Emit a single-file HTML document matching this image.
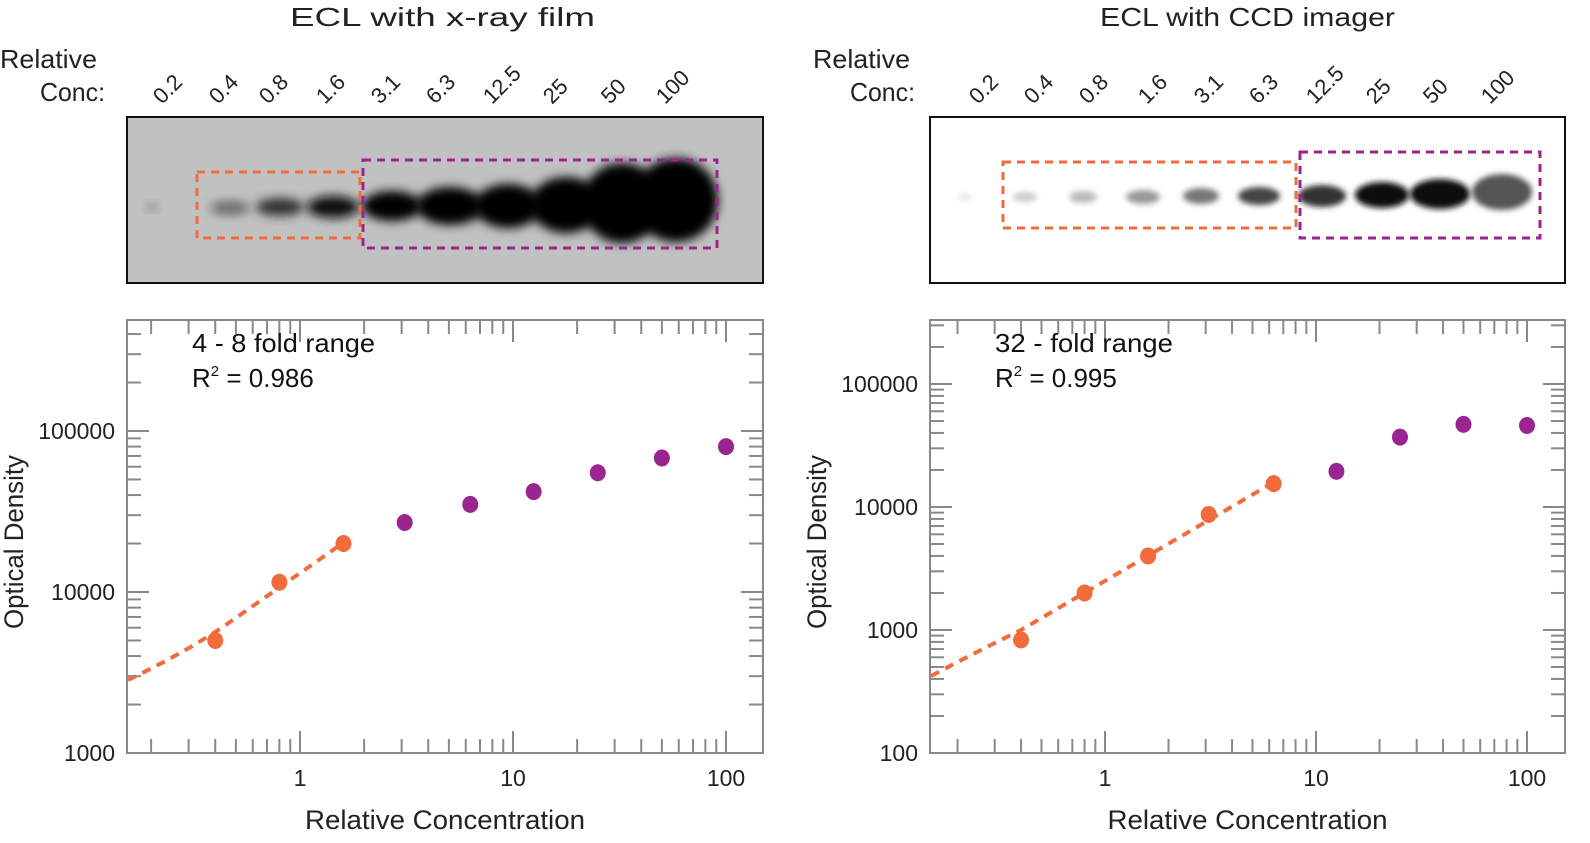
<!DOCTYPE html>
<html><head><meta charset="utf-8"><style>
body{margin:0;background:#fff;}
svg{display:block;font-family:"Liberation Sans",sans-serif;}
</style></head><body>
<svg id="s" width="1590" height="843" xmlns="http://www.w3.org/2000/svg">
<defs>
<filter id="b1" x="-50%" y="-50%" width="200%" height="200%"><feGaussianBlur stdDeviation="5"/></filter>
<filter id="b2" x="-50%" y="-50%" width="200%" height="200%"><feGaussianBlur stdDeviation="3"/></filter>
</defs>
<g fill="#222" font-size="26">
<text x="290" y="26" textLength="305" lengthAdjust="spacingAndGlyphs">ECL with x-ray film</text>
<text x="1100" y="26" textLength="295" lengthAdjust="spacingAndGlyphs">ECL with CCD imager</text>
<text x="0" y="68" textLength="97" lengthAdjust="spacingAndGlyphs">Relative</text><text x="40" y="101" textLength="65" lengthAdjust="spacingAndGlyphs">Conc:</text>
<text x="813" y="68" textLength="97" lengthAdjust="spacingAndGlyphs">Relative</text><text x="850" y="101" textLength="65" lengthAdjust="spacingAndGlyphs">Conc:</text>
</g>
<rect x="127" y="117" width="636" height="166" fill="#c1c1c1" stroke="#111" stroke-width="2"/>
<rect x="930" y="117" width="635" height="166" fill="#fff" stroke="#111" stroke-width="2"/>
<g id="blots"></g>
<rect x="197" y="172" width="163" height="66" fill="none" stroke="#f26b3a" stroke-width="3" stroke-dasharray="8,6"/>
<rect x="363" y="160" width="354" height="88" fill="none" stroke="#9b2590" stroke-width="3" stroke-dasharray="8,6"/>
<rect x="1003" y="162" width="293" height="66" fill="none" stroke="#f26b3a" stroke-width="3" stroke-dasharray="8,6"/>
<rect x="1300" y="152" width="240" height="86" fill="none" stroke="#9b2590" stroke-width="3" stroke-dasharray="8,6"/>
<g id="plots"></g>
</svg>
<script>
var NS="http://www.w3.org/2000/svg";
function el(p,t,a,txt){var e=document.createElementNS(NS,t);for(var k in a)e.setAttribute(k,a[k]);if(txt!=null)e.textContent=txt;p.appendChild(e);return e;}
var B=document.getElementById('blots'),P=document.getElementById('plots');
var labs=["0.2","0.4","0.8","1.6","3.1","6.3","12.5","25","50","100"];
var lx=[162,218,268,325,380,435,492,552,610,665], rx=[978,1033,1088,1147,1203,1258,1315,1375,1432,1490];
labs.forEach(function(l,i){
 el(P,'text',{x:lx[i],y:105,'font-size':22,fill:'#222',transform:'rotate(-45 '+lx[i]+' 105)'},l);
 el(P,'text',{x:rx[i],y:105,'font-size':22,fill:'#222',transform:'rotate(-45 '+rx[i]+' 105)'},l);
});
var lb=[[152,207,6,4,'#8a8a8a'],[230,208,20,7,'#6a6a6a'],[280,207,24,9,'#333'],[333,207,26,11,'#111'],[392,206,30,15,'#000'],[450,206,34,19,'#000'],[508,206,34,22,'#000'],[566,205,36,28,'#000'],[622,203,40,40,'#000'],[676,200,42,42,'#000']];
lb.forEach(function(b){el(B,'ellipse',{cx:b[0],cy:b[1],rx:b[2],ry:b[3],fill:b[4],filter:'url(#b1)'});});
var rb=[[965,197,6,3,'#ddd'],[1025,197,12,5,'#ccc'],[1083,197,14,6,'#bbb'],[1143,197,17,7,'#999'],[1201,196,18,8,'#777'],[1259,196,21,9,'#444'],[1322,196,24,11,'#333'],[1382,195,27,13,'#111'],[1440,194,30,15,'#111'],[1502,192,30,18,'#555']];
rb.forEach(function(b){el(B,'ellipse',{cx:b[0],cy:b[1],rx:b[2],ry:b[3],fill:b[4],filter:'url(#b2)'});});
function plot(o){
 var g=el(P,'g',{});
 var X=function(c){return o.x1+o.dx*Math.log10(c);}, Y=function(v){return o.yb-o.dy*(Math.log10(v)-o.ymin);};
 el(g,'rect',{x:o.L,y:o.T,width:o.R-o.L,height:o.Bt-o.T,fill:'none',stroke:'#888','stroke-width':2});
 for(var d=-1;d<=2;d++)for(var m=1;m<10;m++){var c=m*Math.pow(10,d),x=X(c);if(x<=o.L+1||x>=o.R-1)continue;var len=m==1?22:14;
  el(g,'line',{x1:x,x2:x,y1:o.Bt,y2:o.Bt-len,stroke:'#888','stroke-width':2});
  el(g,'line',{x1:x,x2:x,y1:o.T,y2:o.T+len,stroke:'#888','stroke-width':2});}
 for(var d2=o.ymin;d2<=o.ymin+3;d2++)for(var m2=1;m2<10;m2++){var v=m2*Math.pow(10,d2),y=Y(v);if(y>=o.Bt-1||y<=o.T+1)continue;var len2=m2==1?22:14;
  el(g,'line',{x1:o.L,x2:o.L+len2,y1:y,y2:y,stroke:'#888','stroke-width':2});
  el(g,'line',{x1:o.R,x2:o.R-len2,y1:y,y2:y,stroke:'#888','stroke-width':2});}
 [1,10,100].forEach(function(c){el(g,'text',{x:X(c),y:786,'font-size':23,'text-anchor':'middle',fill:'#222'},String(c));});
 o.yl.forEach(function(v){el(g,'text',{x:o.L-12,y:Y(v)+8,'font-size':23,'text-anchor':'end',fill:'#222'},String(v));});
 el(g,'text',{x:(o.L+o.R)/2-140,y:829,'font-size':27,fill:'#222',textLength:280,lengthAdjust:'spacingAndGlyphs'},'Relative Concentration');
 el(g,'text',{x:0,y:0,'font-size':27,fill:'#222',textLength:174,lengthAdjust:'spacingAndGlyphs',transform:'translate('+(o.L-104)+' 629) rotate(-90)'},'Optical Density');
 el(g,'text',{x:o.L+65,y:352,'font-size':26,fill:'#111',textLength:o.tw,lengthAdjust:'spacingAndGlyphs'},o.t1);
 var t=el(g,'text',{x:o.L+65,y:387,'font-size':26,fill:'#111'});
 t.innerHTML='R<tspan font-size="15" dy="-11">2</tspan><tspan dy="11"> = '+o.r2+'</tspan>';
 el(g,'path',{d:o.line,fill:'none',stroke:'#f26b3a','stroke-width':4,'stroke-dasharray':'9,7'});
 o.pts.forEach(function(p,i){el(g,'ellipse',{cx:X(p[0]),cy:Y(p[1]),rx:8,ry:8.5,fill:i<o.no?'#f26b3a':'#9b2590'});});
}
var conc=[0.4,0.8,1.6,3.1,6.3,12.5,25,50,100];
plot({L:127,R:763,T:320,Bt:753,x1:300,dx:213,yb:753,dy:161,ymin:3,yl:[1000,10000,100000],
 t1:'4 - 8 fold range',tw:183,r2:'0.986',no:3,line:'M128,680 Q190,650 230,622 L343,543',
 pts:conc.map(function(c,i){return [c,[5000,11500,20000,27000,35000,42000,55000,68000,80000][i]];})});
plot({L:930,R:1565,T:320,Bt:753,x1:1105,dx:211,yb:753,dy:123,ymin:2,yl:[100,1000,10000,100000],
 t1:'32 - fold range',tw:178,r2:'0.995',no:5,line:'M931,676 Q980,650 1021,630 L1274,482',
 pts:conc.map(function(c,i){return [c,[830,2000,4000,8700,15500,19500,37000,47000,46000][i]];})});
</script>
</body></html>
